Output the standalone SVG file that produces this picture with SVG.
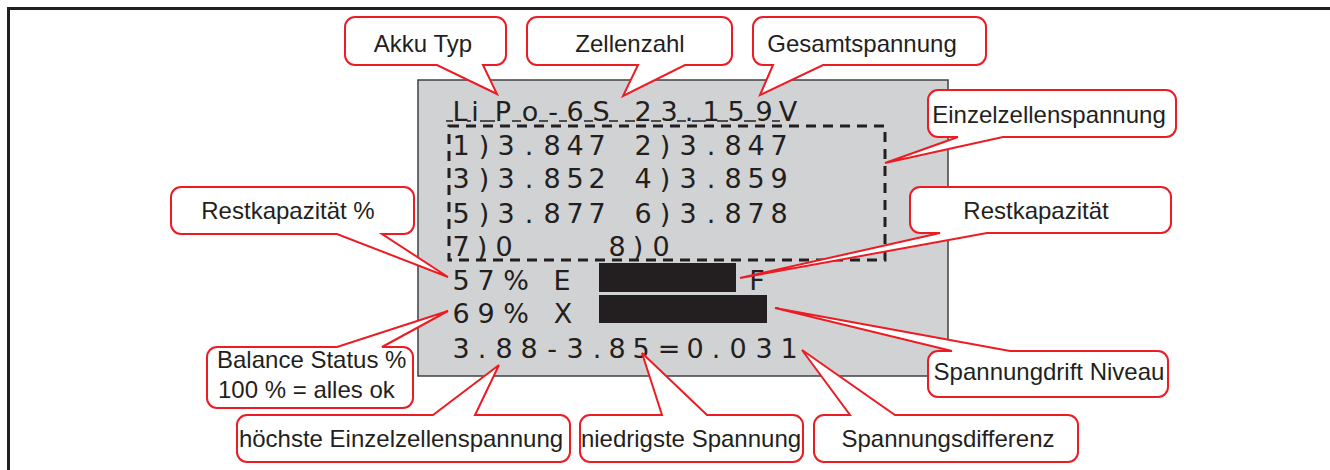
<svg xmlns="http://www.w3.org/2000/svg" width="1330" height="470" viewBox="0 0 1330 470">
<style>
.frame{fill:none;stroke:#231f20;stroke-width:3}
.lcd{fill:#d1d2d4;stroke:#414042;stroke-width:1.5}
.lcdt{font-family:"DejaVu Sans","Open Sans",sans-serif;font-size:27px;fill:#231f20;text-anchor:middle}
.bar{fill:#231f20}
.dash{fill:none;stroke:#231f20;stroke-width:3;stroke-dasharray:10 7}
.us{fill:none;stroke:#231f20;stroke-width:1.6}
.co{fill:#fff;stroke:#ed1c24;stroke-width:2;stroke-linejoin:miter}
.lbl{font-family:"Liberation Sans",Arial,sans-serif;font-size:24px;fill:#231f20;text-anchor:middle}
.lbll{font-family:"Liberation Sans",Arial,sans-serif;font-size:24px;fill:#231f20}
</style>
<rect class="frame" x="8.5" y="8.5" width="1400" height="520"/>
<g id="display">
<rect class="lcd" x="418" y="80" width="530" height="296"/>
<rect class="dash" x="449" y="126" width="436" height="134"/>
<path class="us" d="M446,121H453M467,121H471M480,121H495M512,121H521M539,121H548M559,121H567M584,121H593M609,121H618M625,121H635M651,121H661M677,121H686M692,121H706M717,121H728M744,121H756M772,121H780"/>
<text class="lcdt" x="460 475 503 530 553 575 601 622 643 669 689 711 736 764 788" y="121">LiPo-6S 23.159V</text>
<text class="lcdt" x="461 484 506 529 552 575 597 620 643 665 688 711 733 756 779" y="155">1)3.847 2)3.847</text>
<text class="lcdt" x="461 484 506 529 552 575 597 620 643 665 688 711 733 756 779" y="188">3)3.852 4)3.859</text>
<text class="lcdt" x="461 484 506 529 552 575 597 620 643 665 688 711 733 756 779" y="223">5)3.877 6)3.878</text>
<text class="lcdt" x="461 482 504 560 617 638 661" y="256">7)0 8)0</text>
<text class="lcdt" x="461 486 516 540 562 660 757" y="290">57% E F</text>
<text class="lcdt" x="461 486 516 540 563" y="323">69% X</text>
<text class="lcdt" x="461 482 504 529 552 575 597 617 641 669 695 716 738 764 789" y="358">3.88-3.85=0.031</text>
<rect class="bar" x="599" y="263" width="137" height="29"/>
<rect class="bar" x="599" y="295" width="168" height="28"/>
</g>
<g id="connectors"></g>
<g id="akku-typ">
<path class="co" d="M355,17H496A10,10 0 0 1 506,27V55A10,10 0 0 1 496,65H483L497,94L437,65H355A10,10 0 0 1 345,55V27A10,10 0 0 1 355,17Z"/>
<text class="lbl" x="423" y="52">Akku Typ</text>
</g>
<g id="zellenzahl">
<path class="co" d="M537,17H722A10,10 0 0 1 732,27V55A10,10 0 0 1 722,65H685L623,96L638,65H537A10,10 0 0 1 527,55V27A10,10 0 0 1 537,17Z"/>
<text class="lbl" x="630" y="52">Zellenzahl</text>
</g>
<g id="gesamtspannung">
<path class="co" d="M763,17H976A10,10 0 0 1 986,27V55A10,10 0 0 1 976,65H823L760,95L773,65H763A10,10 0 0 1 753,55V27A10,10 0 0 1 763,17Z"/>
<text class="lbl" x="862" y="52">Gesamtspannung</text>
</g>
<g id="einzelzellenspannung">
<path class="co" d="M938,90H1166A10,10 0 0 1 1176,100V127A10,10 0 0 1 1166,137H1003L885,163L958,137H938A10,10 0 0 1 928,127V100A10,10 0 0 1 938,90Z"/>
<text class="lbl" x="1049" y="123">Einzelzellenspannung</text>
</g>
<g id="restkapazitaet-prozent">
<path class="co" d="M181,187H404A10,10 0 0 1 414,197V224A10,10 0 0 1 404,234H382L448,277L337,234H181A10,10 0 0 1 171,224V197A10,10 0 0 1 181,187Z"/>
<text class="lbl" x="288" y="219">Restkapazität %</text>
</g>
<g id="restkapazitaet">
<path class="co" d="M920,187H1161A10,10 0 0 1 1171,197V223A10,10 0 0 1 1161,233H987L740,278L940,233H920A10,10 0 0 1 910,223V197A10,10 0 0 1 920,187Z"/>
<text class="lbl" x="1036" y="219">Restkapazität</text>
</g>
<g id="balance-status">
<path class="co" d="M217,347H337L448,311L382,347H403A10,10 0 0 1 413,357V398A10,10 0 0 1 403,408H217A10,10 0 0 1 207,398V357A10,10 0 0 1 217,347Z"/>
<text class="lbll" x="217" y="368">Balance Status %</text>
<text class="lbll" x="218" y="398">100 % = alles ok</text>
</g>
<g id="hoechste">
<path class="co" d="M247,415H433L499,365L475,415H560A10,10 0 0 1 570,425V452A10,10 0 0 1 560,462H247A10,10 0 0 1 237,452V425A10,10 0 0 1 247,415Z"/>
<text class="lbl" x="401" y="447">höchste Einzelzellenspannung</text>
</g>
<g id="niedrigste">
<path class="co" d="M590,415H662L642,353L707,415H793A10,10 0 0 1 803,425V452A10,10 0 0 1 793,462H590A10,10 0 0 1 580,452V425A10,10 0 0 1 590,415Z"/>
<text class="lbl" x="691" y="447">niedrigste Spannung</text>
</g>
<g id="spannungsdifferenz">
<path class="co" d="M824,415H850L802,350L895,415H1068A10,10 0 0 1 1078,425V452A10,10 0 0 1 1068,462H824A10,10 0 0 1 814,452V425A10,10 0 0 1 824,415Z"/>
<text class="lbl" x="948" y="447">Spannungsdifferenz</text>
</g>
<g id="spannungdrift">
<path class="co" d="M938,351H952L775,308L1010,351H1158A10,10 0 0 1 1168,361V387A10,10 0 0 1 1158,397H938A10,10 0 0 1 928,387V361A10,10 0 0 1 938,351Z"/>
<text class="lbl" x="1049" y="380">Spannungdrift Niveau</text>
</g>
</svg>
